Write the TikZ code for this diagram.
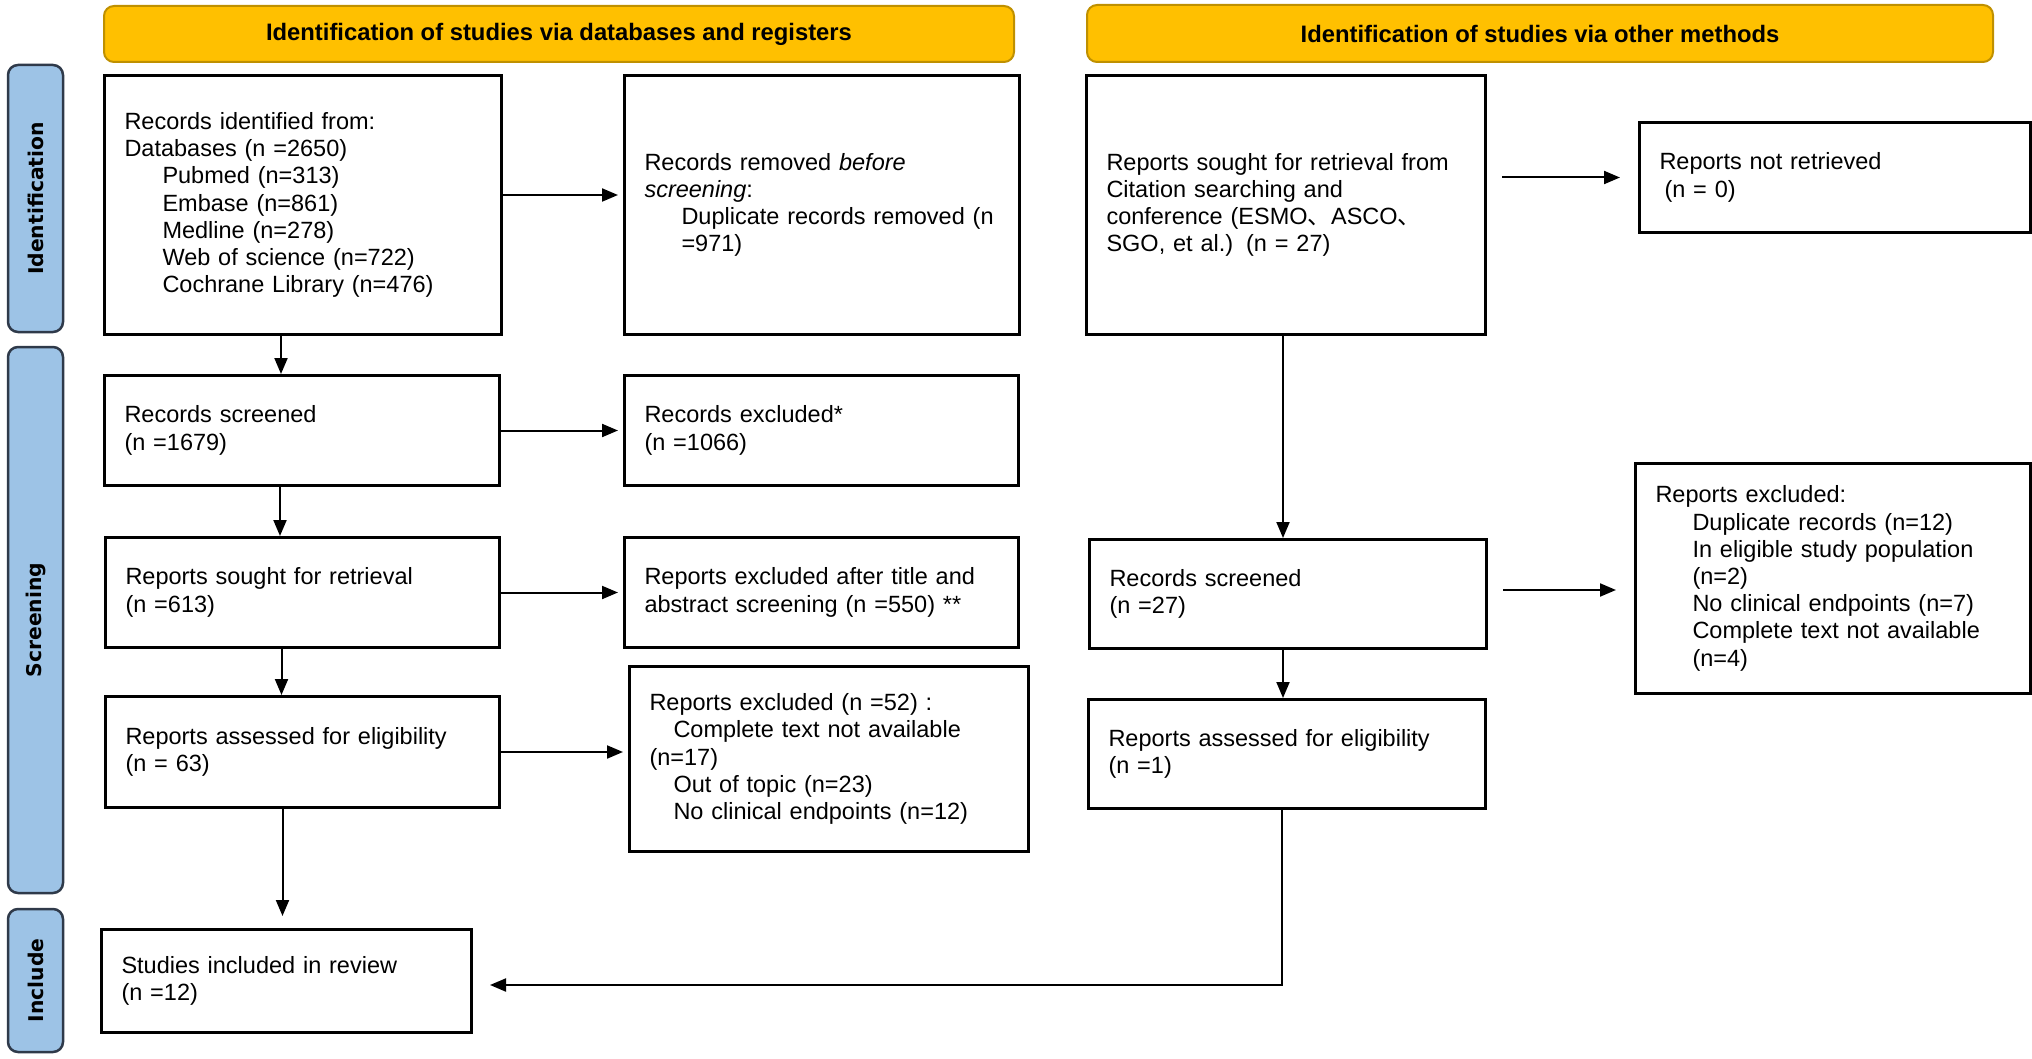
\documentclass[tikz,border=0pt]{standalone}
\usepackage{fontspec}
\setmainfont{Liberation Sans}
\newfontfamily\barfont{DejaVu Sans}
\newfontfamily\cjk{Noto Sans CJK SC}
\usetikzlibrary{arrows.meta}

\definecolor{barblue}{HTML}{9DC3E6}
\definecolor{barline}{HTML}{2F3A4A}
\definecolor{headgold}{HTML}{FFC000}
\definecolor{headline}{HTML}{BF9000}

\begin{document}
\begin{tikzpicture}[
  x=1pt, y=-1pt,
  font=\fontsize{23.5}{27.2}\selectfont,
  recbox/.style={draw, line width=3pt, anchor=north west, align=left, inner xsep=20pt, inner ysep=0pt},
  header/.style={draw=headline, fill=headgold, line width=2pt, rounded corners=10pt, font=\fontsize{23.8}{27.2}\selectfont\bfseries},
  phase/.style={draw=barline, fill=barblue, line width=2.5pt, rounded corners=10pt, rotate=90, minimum height=55pt, font=\barfont\bfseries\fontsize{20.3}{23}\selectfont},
  flow/.style={-{Triangle[length=16pt, width=13pt]}, line width=2pt}
]
\useasboundingbox (0,0) rectangle (2032,1059);

% headers and phase bars
\node[header, minimum width=910pt, minimum height=56pt] (dbhead) at (559,34) {Identification of studies via databases and registers};
\node[header, minimum width=906pt, minimum height=57pt] (otherhead) at (1540,33.5) {Identification of studies via other methods};

\node[phase, minimum width=267pt] (idphase) at (35.5,198.5) {Identification};
\node[phase, minimum width=546pt] (scphase) at (35.5,620) {Screening};
\node[phase, minimum width=143pt] (incphase) at (35.5,980.5) {Include};

% databases and registers
\node[recbox, text width=357pt, minimum height=259pt] (ident) at (103,74) {Records identified from:\\Databases (n =2650)\\\hspace*{38pt}Pubmed (n=313)\\\hspace*{38pt}Embase (n=861)\\\hspace*{38pt}Medline (n=278)\\\hspace*{38pt}Web of science (n=722)\\\hspace*{38pt}Cochrane Library (n=476)};
\node[recbox, text width=355pt, minimum height=259pt] (removed) at (623,74) {Records removed \textit{before}\\\textit{screening}:\\\hspace*{37pt}Duplicate records removed (n\\\hspace*{37pt}=971)};
\node[recbox, text width=355pt, minimum height=110pt] (screened) at (103,374) {Records screened\\(n =1679)};
\node[recbox, text width=354pt, minimum height=110pt] (recexcl) at (623,374) {Records excluded*\\(n =1066)};
\node[recbox, text width=354pt, minimum height=110pt] (sought) at (104,536) {Reports sought for retrieval\\(n =613)};
\node[recbox, text width=354pt, minimum height=110pt] (titleexcl) at (623,536) {Reports excluded after title and\\abstract screening (n =550) **};
\node[recbox, text width=354pt, minimum height=111pt] (assessed) at (104,695) {Reports assessed for eligibility\\(n = 63)};
\node[recbox, text width=359pt, minimum height=185pt] (ftexcl) at (628,665) {Reports excluded (n =52) :\\\hspace*{24pt}Complete text not available\\(n=17)\\\hspace*{24pt}Out of topic (n=23)\\\hspace*{24pt}No clinical endpoints (n=12)};
\node[recbox, text width=330pt, minimum height=103pt] (included) at (100,928) {Studies included in review\\(n =12)};

% other methods
\node[recbox, text width=359pt, minimum height=259pt] (citation) at (1085,74) {Reports sought for retrieval from\\Citation searching and\\conference (ESMO{\cjk 、}ASCO{\cjk 、}\\SGO, et al.)\hspace{13pt}(n = 27)};
\node[recbox, text width=351pt, minimum height=110pt] (notretr) at (1638,121) {Reports not retrieved\\\hspace*{5pt}(n = 0)};
\node[recbox, text width=357pt, minimum height=109pt] (screened2) at (1088,538) {Records screened\\(n =27)};
\node[recbox, text width=355pt, minimum height=230pt] (otherexcl) at (1634,462) {Reports excluded:\\\hspace*{37pt}Duplicate records (n=12)\\\hspace*{37pt}In eligible study population\\\hspace*{37pt}(n=2)\\\hspace*{37pt}No clinical endpoints (n=7)\\\hspace*{37pt}Complete text not available\\\hspace*{37pt}(n=4)};
\node[recbox, text width=357pt, minimum height=109pt] (assessed2) at (1087,698) {Reports assessed for eligibility\\(n =1)};

% connectors
\draw[flow, shorten >=5pt] ([yshift=10pt]ident.east) -- ([yshift=10pt]removed.west);
\draw[flow, shorten >=5pt] (screened.east) -- (recexcl.west);
\draw[flow, shorten >=5pt] (sought.east) -- (titleexcl.west);
\draw[flow, shorten >=5pt] (assessed.east) -- (assessed.east -| ftexcl.west);

\draw[flow] ([xshift=-22pt]ident.south) -- ([xshift=-22pt]ident.south |- screened.north);
\draw[flow] ([xshift=-22pt]screened.south) -- ([xshift=-22pt]screened.south |- sought.north);
\draw[flow] ([xshift=-21pt]sought.south) -- ([xshift=-21pt]sought.south |- assessed.north);
\draw[flow, shorten >=12pt] ([xshift=-20pt]assessed.south) -- ([xshift=-20pt]assessed.south |- included.north);

\draw[flow, shorten <=15pt, shorten >=18pt] (citation.east |- notretr.west) -- (notretr.west);
\draw[flow, shorten <=15pt, shorten >=18pt] ([yshift=4pt]screened2.east) -- ([yshift=4pt]screened2.east -| otherexcl.west);
\draw[flow] ([xshift=-3pt]citation.south) -- ([xshift=-3pt]citation.south |- screened2.north);
\draw[flow] ([xshift=-5pt]screened2.south) -- ([xshift=-5pt]screened2.south |- assessed2.north);
\draw[flow, shorten >=17pt] ([xshift=-5pt]assessed2.south) |- ([yshift=-4pt]included.east);
\end{tikzpicture}
\end{document}
